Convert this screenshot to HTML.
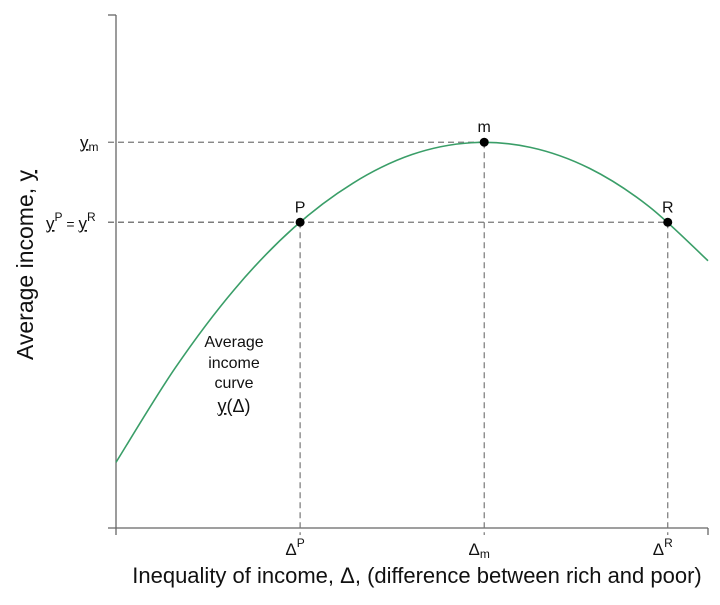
<!DOCTYPE html>
<html><head><meta charset="utf-8"><style>
body{margin:0;background:#fff;}
svg text{font-family:"Liberation Sans",sans-serif;fill:#111;}
</style></head><body>
<svg id="c" width="720" height="600" viewBox="0 0 720 600">
<g id="axes">
<line x1="116" y1="15" x2="116" y2="528" stroke="#666" stroke-width="1.3"/>
<line x1="108" y1="15" x2="116" y2="15" stroke="#666" stroke-width="1.3"/>
<line x1="108" y1="528" x2="708" y2="528" stroke="#666" stroke-width="1.3"/>
<line x1="116" y1="528" x2="116" y2="535" stroke="#666" stroke-width="1.3"/>
<line x1="708" y1="528" x2="708" y2="535" stroke="#666" stroke-width="1.3"/>
</g>
<g id="guides"></g>
<g id="marks"></g>
<text x="33" y="265" font-size="23" text-anchor="middle" transform="rotate(-90 33 265)">Average income, <tspan text-decoration="underline">y</tspan></text>
<text x="417" y="583" font-size="22" text-anchor="middle">Inequality of income, Δ, (difference between rich and poor)</text>
<g font-size="16" text-anchor="middle">
<text x="234" y="347">Average</text>
<text x="234" y="368">income</text>
<text x="234" y="388">curve</text>
<text x="234" y="412" font-size="18"><tspan text-decoration="underline">y</tspan>(Δ)</text>
</g>
<text x="80" y="148" font-size="17"><tspan text-decoration="underline">y</tspan><tspan font-size="12" dy="3">m</tspan></text>
<text x="46" y="229" font-size="17"><tspan text-decoration="underline">y</tspan><tspan font-size="12" dy="-8">P</tspan><tspan dy="8" font-size="14"> = </tspan><tspan text-decoration="underline">y</tspan><tspan font-size="12" dy="-8">R</tspan></text>
</svg>
<script>
const pointNames=["P","m","R"];
const pointX=[3.11,6.22,9.32];
const pointY=[5.96,7.52,5.96];
const xTickLabels=["Δ","Δ","Δ"];
const xTickSubs=["P","m","R"];
const curveX=[0,1,2,3,4,5,6,7,8,9,10];
const curveY=[1.28,3.12,4.65,5.85,6.72,7.28,7.51,7.42,7.01,6.27,5.21];
const X0=116,XW=59.2,Y0=528,YH=51.3;
function sx(v){return X0+v*XW;}
function sy(v){return Y0-v*YH;}
const NS="http://www.w3.org/2000/svg";
function mk(t,a,p){const e=document.createElementNS(NS,t);for(const k in a)e.setAttribute(k,a[k]);p.appendChild(e);return e;}
const g=document.getElementById('guides'),m=document.getElementById('marks'),svg=document.getElementById('c');
pointX.forEach((x,i)=>{
 const px=sx(x),py=sy(pointY[i]);
 const v=mk('line',{x1:px,y1:py,x2:px,y2:Y0+7,stroke:'#777','stroke-width':1.2,'stroke-dasharray':'6,4'},g);
 
 
 const h=mk('line',{x1:108,y1:py,x2:px,y2:py,stroke:'#777','stroke-width':1.2,'stroke-dasharray':'6,4'},g);
 
 
 const t=mk('text',{x:px-5,y:555,'font-size':17,'text-anchor':'middle'},svg);
 
 
 t.textContent=xTickLabels[i];
 const s=mk('tspan',{'font-size':12,dy:(xTickSubs[i]==='m'?3:-8)},t);
 s.textContent=xTickSubs[i];
});
let pts=curveX.map((x,i)=>[sx(x),sy(curveY[i])]);
let d='M'+pts[0][0]+','+pts[0][1];
for(let i=0;i<pts.length-1;i++){
 const p0=pts[Math.max(0,i-1)],p1=pts[i],p2=pts[i+1],p3=pts[Math.min(pts.length-1,i+2)];
 const c1=[p1[0]+(p2[0]-p0[0])/6,p1[1]+(p2[1]-p0[1])/6];
 const c2=[p2[0]-(p3[0]-p1[0])/6,p2[1]-(p3[1]-p1[1])/6];
 d+=' C'+c1+' '+c2+' '+p2;
}
const c=mk('path',{d:d,fill:'none',stroke:'#3a9e68','stroke-width':1.6},m);


pointX.forEach((x,i)=>{
 const dot=mk('circle',{cx:sx(x),cy:sy(pointY[i]),r:4.5,fill:'#000'},m);
 
 
 const l=mk('text',{x:sx(x),y:sy(pointY[i])-10,'font-size':16,'text-anchor':'middle'},m);
 
 
 l.textContent=pointNames[i];
});
</script>
</body></html>
